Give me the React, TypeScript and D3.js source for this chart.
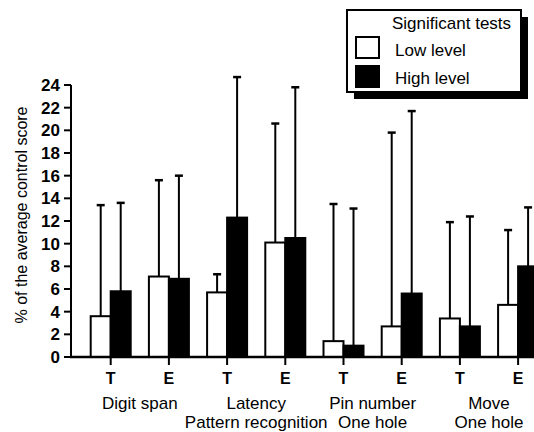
import React from "react";
import { scaleBand, scaleLinear, range } from "d3";

// data
const groups = ["Digit span", "Latency", "Pin number", "Move"];
const subLabels = ["", "Pattern recognition", "One hole", "One hole"];
const conditions = ["T", "E"];
const lowMeans = [3.6, 7.1, 5.7, 10.1, 1.4, 2.7, 3.4, 4.6];
const lowErr = [13.4, 15.6, 7.3, 20.6, 13.5, 19.8, 11.9, 11.2];
const highMeans = [5.8, 6.9, 12.3, 10.5, 1.0, 5.6, 2.7, 8.0];
const highErr = [13.6, 16.0, 24.7, 23.8, 13.1, 21.7, 12.4, 13.2];
const yTicks = range(0, 26, 2);
const levels = ["Low level", "High level"];

const categories = groups.flatMap((g) => conditions.map((c) => g + " " + c));

const W = 534;
const H = 432;
const axisX = 71;
const font = "'Liberation Sans', Arial, sans-serif";

const App = () => {
  const x = scaleBand().domain(categories).range([81.6, 547.2]);
  const inner = scaleBand().domain(levels).range([-20, 20]);
  const y = scaleLinear().domain([0, 24]).range([357, 85]);
  const cx = (c) => x(c) + x.bandwidth() / 2;

  const series = [
    { key: levels[0], means: lowMeans, errs: lowErr, fill: "#fff" },
    { key: levels[1], means: highMeans, errs: highErr, fill: "#000" },
  ];

  const bars = series.map((s) =>
    categories.map((c, i) => {
      const bx = cx(c) + inner(s.key);
      const mid = bx + inner.bandwidth() / 2;
      return (
        <g key={s.key + c}>
          <line x1={mid} x2={mid} y1={y(s.means[i])} y2={y(s.errs[i])} stroke="#000" strokeWidth={2} />
          <line x1={mid - 4} x2={mid + 4} y1={y(s.errs[i])} y2={y(s.errs[i])} stroke="#000" strokeWidth={2.5} />
          <rect
            x={bx}
            y={y(s.means[i])}
            width={inner.bandwidth()}
            height={y(0) - y(s.means[i])}
            fill={s.fill}
            stroke="#000"
            strokeWidth={2}
          />
        </g>
      );
    })
  );

  const yAxis = yTicks.map((t) => (
    <g key={t}>
      <line x1={axisX - 7} x2={axisX} y1={y(t)} y2={y(t)} stroke="#000" strokeWidth={2} />
      <text x={60} y={y(t)} dy="0.36em" textAnchor="end" fontSize={17} fontWeight="bold" fontFamily={font}>
        {t}
      </text>
    </g>
  ));

  const xAxis = categories.map((c, i) => (
    <g key={c}>
      <line x1={cx(c)} x2={cx(c)} y1={y(0)} y2={y(0) + 8} stroke="#000" strokeWidth={2} />
      <text x={cx(c)} y={383.5} textAnchor="middle" fontSize={16} fontWeight="bold" fontFamily={font}>
        {conditions[i % 2]}
      </text>
    </g>
  ));

  const groupLabels = groups.map((g, gi) => {
    const gx = (cx(categories[gi * 2]) + cx(categories[gi * 2 + 1])) / 2;
    return (
      <g key={g} fontSize={17} fontFamily={font}>
        <text x={gx} y={409} textAnchor="middle">{g}</text>
        <text x={gx} y={428} textAnchor="middle">{subLabels[gi]}</text>
      </g>
    );
  });

  return (
    <svg width={W} height={H} style={{ position: "absolute", left: 0, top: 0, display: "block" }}>
      <rect width={W} height={H} fill="#fff" />
      {bars}
      <line x1={axisX} x2={axisX} y1={y(24)} y2={y(0) + 1} stroke="#000" strokeWidth={2} />
      <line x1={axisX - 1} x2={W} y1={y(0)} y2={y(0)} stroke="#000" strokeWidth={2.5} />
      {yAxis}
      {xAxis}
      {groupLabels}
      <text
        transform={`translate(27,215) rotate(-90)`}
        textAnchor="middle"
        fontSize={16}
        fontFamily={font}
      >
        % of the average control score
      </text>
      <g fontFamily={font} fontSize={17}>
        <rect x={354} y={17} width={174} height={82} fill="#000" />
        <rect x={347} y={10} width={174} height={82} fill="#fff" stroke="#000" strokeWidth={2} />
        <text x={392} y={29}>Significant tests</text>
        {series.map((s, i) => (
          <g key={s.key}>
            <rect x={356} y={37 + i * 29} width={23} height={21} fill={s.fill} stroke="#000" strokeWidth={2} />
            <text x={395} y={56 + i * 28}>{s.key}</text>
          </g>
        ))}
      </g>
    </svg>
  );
};

export default App;
